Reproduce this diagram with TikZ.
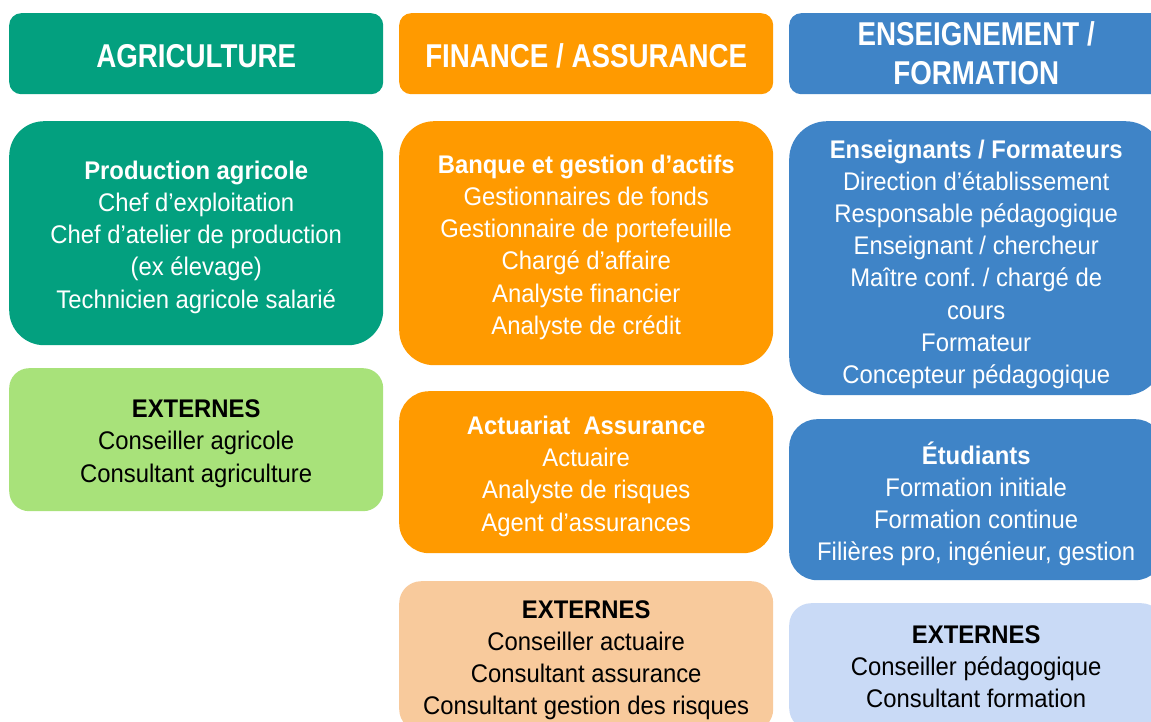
\documentclass[tikz,border=0pt]{standalone}
\usepackage{fontspec}
\setmainfont{Liberation Sans}[FakeStretch=0.84]
\newfontfamily\bodyfam{Liberation Sans}[FakeStretch=0.935]
\definecolor{agri}{HTML}{03A07F}
\definecolor{agrilt}{HTML}{A8E27A}
\definecolor{fin}{HTML}{FF9A00}
\definecolor{finlt}{HTML}{F8CA9C}
\definecolor{ens}{HTML}{3F84C7}
\definecolor{enslt}{HTML}{C9DAF6}
\newcommand\hdfont{\fontsize{33}{39}\selectfont\bfseries}
\newcommand\bdfont{\bodyfam\fontsize{25.5}{32.2}\selectfont}
\frenchspacing
\begin{document}
\begin{tikzpicture}[x=1pt,y=-1pt,
  box/.style={draw=none, anchor=north west, minimum width=374pt, inner sep=0pt},
  hdbox/.style={box, rounded corners=12pt, minimum height=81pt},
  hdtxt/.style={align=center, inner sep=0pt, font=\hdfont, text=white},
  txt/.style={align=center, inner sep=0pt, font=\bdfont, yshift=-4pt},
  dark/.style={txt, text=white},
  light/.style={txt, text=black}]
\useasboundingbox (0,0) rectangle (1151,722);
\fill[white] (0,0) rectangle (1151,722);
\clip (0,0) rectangle (1151,722);
% column 1
\node[hdbox, fill=agri] (h1) at (9,13) {};
\node[hdtxt, yshift=-2pt] (h1t) at (h1.center) {AGRICULTURE};
\node[box, fill=agri, rounded corners=35pt, minimum height=224pt] (p1) at (9,121) {};
\node[dark] (p1t) at (p1.center)
  {\textbf{Production agricole}\\Chef d’exploitation\\Chef d’atelier de production\\(ex élevage)\\Technicien agricole salarié};
\node[box, fill=agrilt, rounded corners=20pt, minimum height=143pt] (e1) at (9,368) {};
\node[light] (e1t) at (e1.center)
  {\textbf{EXTERNES}\\Conseiller agricole\\Consultant agriculture};
% column 2
\node[hdbox, fill=fin] (h2) at (399,13) {};
\node[hdtxt, yshift=-2pt] (h2t) at (h2.center) {FINANCE / ASSURANCE};
\node[box, fill=fin, rounded corners=35pt, minimum height=244pt] (b2) at (399,121) {};
\node[dark] (b2t) at (b2.center)
  {\textbf{Banque et gestion d’actifs}\\Gestionnaires de fonds\\Gestionnaire de portefeuille\\Chargé d’affaire\\Analyste financier\\Analyste de crédit};
\node[box, fill=fin, rounded corners=30pt, minimum height=162pt] (a2) at (399,391) {};
\node[dark] (a2t) at (a2.center)
  {\textbf{Actuariat~ Assurance}\\Actuaire\\Analyste de risques\\Agent d’assurances};
\node[box, fill=finlt, rounded corners=22pt, minimum height=150pt] (e2) at (399,581) {};
\node[light] (e2t) at (e2.center)
  {\textbf{EXTERNES}\\Conseiller actuaire\\Consultant assurance\\Consultant gestion des risques};
% column 3
\node[hdbox, fill=ens] (h3) at (789,13) {};
\node[hdtxt] (h3t) at (h3.center) {ENSEIGNEMENT /\\FORMATION};
\node[box, fill=ens, rounded corners=38pt, minimum height=274pt] (t3) at (789,121) {};
\node[dark, yshift=-2pt] (t3t) at (t3.center)
  {\textbf{Enseignants / Formateurs}\\Direction d’établissement\\Responsable pédagogique\\Enseignant / chercheur\\Maître conf. / chargé de\\cours\\Formateur\\Concepteur pédagogique};
\node[box, fill=ens, rounded corners=28pt, minimum height=161pt] (s3) at (789,419) {};
\node[dark] (s3t) at (s3.center)
  {\textbf{Étudiants}\\Formation initiale\\Formation continue\\Filières pro, ingénieur, gestion};
\node[box, fill=enslt, rounded corners=22pt, minimum height=127pt] (e3) at (789,603) {};
\node[light, yshift=4pt] (e3t) at (e3.center)
  {\textbf{EXTERNES}\\Conseiller pédagogique\\Consultant formation};
\end{tikzpicture}
\end{document}
